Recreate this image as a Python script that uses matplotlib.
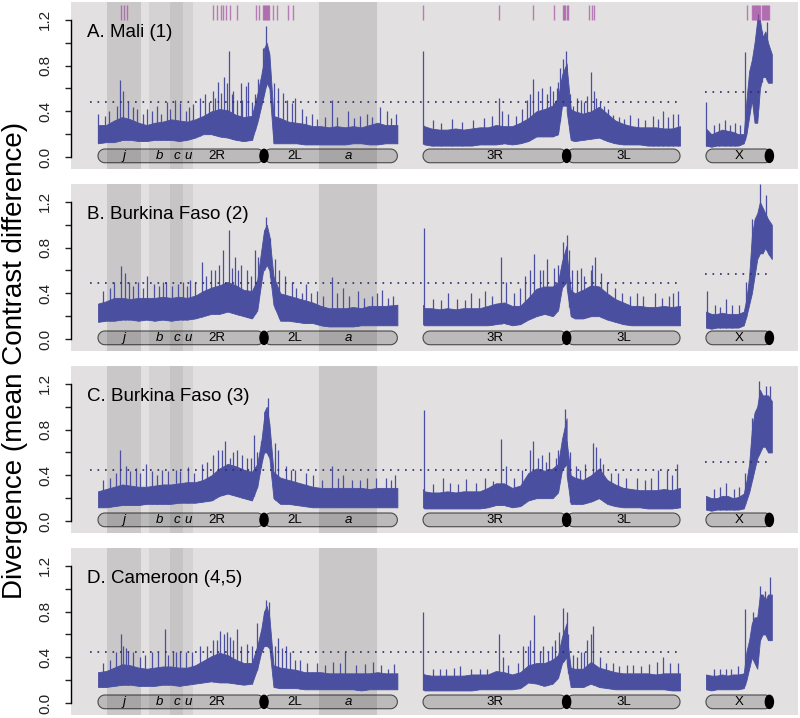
import numpy as np
import matplotlib.pyplot as plt
from matplotlib.patches import Polygon, Ellipse

plt.rcParams['font.family'] = ['Liberation Sans', 'DejaVu Sans']

# chromosome arms laid out left to right, in Mb (gaps between chromosomes)
arm_names = ['2R', '2L', '3R', '3L', 'X']
arm_start = [0.0, 61.5, 120.4, 173.6, 225.2]
arm_len = [61.5, 49.4, 53.2, 42.0, 24.4]
arm_label_x = [44.1, 73.0, 147.0, 194.6, 237.4]

# inversions (layout Mb)
inv_names = ['j', 'b', 'c', 'u', 'a']
inv_start = [3.3, 18.9, 26.7, 31.5, 81.9]
inv_end = [15.9, 26.7, 31.5, 35.2, 103.3]

# positions along each arm where the band was read (Mb from arm's left end)
grid = [
    [0, 3, 6, 9, 12, 15, 18, 21, 24, 27, 30, 33, 36, 39, 42, 45, 48, 51, 54, 57, 59, 60.5, 61.5],
    [0, 1, 2, 3.5, 6, 9, 12, 15, 18, 21, 24, 27, 30, 33, 36, 39, 42, 45, 49.4],
    [0, 0.5, 3, 6, 9, 12, 15, 18, 21, 24, 27, 30, 33, 36, 39, 42, 45, 48, 50, 51.5, 53.2],
    [0, 1.5, 3, 6, 9, 12, 15, 18, 21, 24, 27, 30, 33, 36, 39, 42],
    [0, 2, 4, 6, 8, 10, 12, 14, 15, 16, 17, 18, 19, 20, 21, 22, 23, 24.4],
]

titles = ['A. Mali (1)', 'B. Burkina Faso (2)', 'C. Burkina Faso (3)', 'D. Cameroon (4,5)']
thr_auto = [0.48, 0.49, 0.45, 0.45]
thr_x = [0.57, 0.57, 0.52, None]

# top / bottom of the dense part of the divergence trace
mali_hi = [
    [0.28, 0.28, 0.32, 0.35, 0.33, 0.30, 0.28, 0.30, 0.31, 0.33, 0.32, 0.31, 0.33, 0.36, 0.40, 0.42, 0.41, 0.37, 0.35, 0.36, 0.55, 0.72, 0.85],
    [0.95, 1.0, 0.9, 0.36, 0.34, 0.31, 0.3, 0.29, 0.27, 0.27, 0.26, 0.27, 0.26, 0.27, 0.26, 0.28, 0.3, 0.28, 0.28],
    [0.28, 0.27, 0.25, 0.24, 0.24, 0.25, 0.24, 0.25, 0.26, 0.26, 0.28, 0.27, 0.27, 0.3, 0.34, 0.40, 0.42, 0.45, 0.52, 0.72, 0.82],
    [0.8, 0.42, 0.4, 0.38, 0.40, 0.44, 0.38, 0.32, 0.29, 0.27, 0.26, 0.26, 0.26, 0.25, 0.25, 0.27],
    [0.25, 0.2, 0.22, 0.24, 0.23, 0.22, 0.2, 0.2, 0.5, 0.75, 0.85, 1.0, 1.2, 1.2, 1.05, 1.1, 1.0, 0.9],
]
mali_lo = [
    [0.12, 0.13, 0.13, 0.15, 0.15, 0.14, 0.14, 0.15, 0.15, 0.15, 0.14, 0.15, 0.17, 0.20, 0.20, 0.18, 0.17, 0.15, 0.14, 0.15, 0.30, 0.45, 0.55],
    [0.55, 0.65, 0.6, 0.12, 0.12, 0.12, 0.12, 0.11, 0.11, 0.11, 0.11, 0.11, 0.11, 0.12, 0.12, 0.11, 0.11, 0.12, 0.12],
    [0.12, 0.11, 0.10, 0.10, 0.10, 0.10, 0.10, 0.10, 0.11, 0.11, 0.11, 0.12, 0.11, 0.12, 0.14, 0.18, 0.18, 0.18, 0.2, 0.45, 0.45],
    [0.4, 0.15, 0.14, 0.15, 0.16, 0.17, 0.14, 0.12, 0.11, 0.11, 0.11, 0.10, 0.10, 0.10, 0.10, 0.10],
    [0.1, 0.09, 0.1, 0.1, 0.1, 0.1, 0.1, 0.12, 0.2, 0.35, 0.5, 0.3, 0.3, 0.6, 0.7, 0.7, 0.65, 0.65],
]
bf2_hi = [
    [0.31, 0.33, 0.36, 0.36, 0.35, 0.36, 0.36, 0.36, 0.37, 0.36, 0.37, 0.36, 0.38, 0.42, 0.45, 0.47, 0.5, 0.47, 0.43, 0.42, 0.52, 0.78, 0.95],
    [0.95, 1.0, 0.9, 0.55, 0.4, 0.38, 0.36, 0.34, 0.32, 0.29, 0.27, 0.27, 0.27, 0.28, 0.27, 0.29, 0.29, 0.29, 0.3],
    [0.3, 0.27, 0.27, 0.26, 0.27, 0.26, 0.27, 0.27, 0.27, 0.29, 0.31, 0.32, 0.29, 0.29, 0.36, 0.44, 0.46, 0.46, 0.5, 0.68, 0.82],
    [0.75, 0.43, 0.4, 0.43, 0.47, 0.46, 0.4, 0.35, 0.32, 0.29, 0.29, 0.28, 0.28, 0.29, 0.28, 0.29],
    [0.24, 0.22, 0.22, 0.23, 0.22, 0.22, 0.22, 0.24, 0.35, 0.55, 0.9, 1.05, 1.1, 1.2, 1.15, 1.1, 1.05, 1.0],
]
bf2_lo = [
    [0.15, 0.16, 0.16, 0.17, 0.17, 0.16, 0.17, 0.16, 0.17, 0.16, 0.17, 0.17, 0.18, 0.20, 0.22, 0.22, 0.24, 0.22, 0.20, 0.18, 0.25, 0.50, 0.65],
    [0.6, 0.65, 0.6, 0.3, 0.16, 0.16, 0.15, 0.14, 0.14, 0.12, 0.11, 0.11, 0.11, 0.11, 0.12, 0.12, 0.12, 0.12, 0.12],
    [0.13, 0.12, 0.12, 0.12, 0.12, 0.12, 0.12, 0.12, 0.12, 0.12, 0.13, 0.14, 0.12, 0.13, 0.17, 0.2, 0.22, 0.2, 0.25, 0.45, 0.5],
    [0.45, 0.2, 0.18, 0.18, 0.2, 0.2, 0.17, 0.15, 0.13, 0.12, 0.12, 0.12, 0.12, 0.12, 0.12, 0.12],
    [0.1, 0.09, 0.1, 0.1, 0.1, 0.1, 0.1, 0.12, 0.2, 0.3, 0.4, 0.55, 0.7, 0.75, 0.75, 0.8, 0.75, 0.7],
]
bf3_hi = [
    [0.26, 0.28, 0.30, 0.32, 0.31, 0.30, 0.30, 0.31, 0.32, 0.32, 0.33, 0.34, 0.34, 0.36, 0.40, 0.46, 0.5, 0.48, 0.45, 0.43, 0.5, 0.7, 0.9],
    [0.95, 1.0, 0.85, 0.43, 0.38, 0.36, 0.34, 0.32, 0.3, 0.29, 0.29, 0.29, 0.29, 0.29, 0.29, 0.28, 0.29, 0.29, 0.29],
    [0.28, 0.26, 0.25, 0.25, 0.26, 0.25, 0.26, 0.26, 0.26, 0.29, 0.33, 0.33, 0.29, 0.31, 0.42, 0.46, 0.44, 0.46, 0.5, 0.72, 0.9],
    [0.7, 0.4, 0.38, 0.36, 0.4, 0.46, 0.36, 0.32, 0.29, 0.28, 0.27, 0.27, 0.27, 0.28, 0.27, 0.29],
    [0.22, 0.2, 0.2, 0.22, 0.22, 0.2, 0.21, 0.24, 0.35, 0.5, 0.8, 0.95, 1.0, 1.15, 1.1, 1.1, 1.1, 1.05],
]
bf3_lo = [
    [0.12, 0.12, 0.13, 0.14, 0.14, 0.14, 0.15, 0.15, 0.15, 0.15, 0.16, 0.16, 0.16, 0.17, 0.18, 0.22, 0.24, 0.22, 0.2, 0.18, 0.3, 0.5, 0.6],
    [0.6, 0.6, 0.55, 0.2, 0.15, 0.15, 0.14, 0.13, 0.12, 0.12, 0.12, 0.12, 0.12, 0.12, 0.12, 0.12, 0.12, 0.12, 0.12],
    [0.12, 0.11, 0.11, 0.11, 0.11, 0.11, 0.11, 0.11, 0.11, 0.12, 0.14, 0.14, 0.12, 0.13, 0.18, 0.2, 0.2, 0.2, 0.25, 0.45, 0.5],
    [0.4, 0.15, 0.15, 0.15, 0.17, 0.2, 0.15, 0.13, 0.12, 0.12, 0.12, 0.11, 0.11, 0.11, 0.11, 0.12],
    [0.1, 0.09, 0.1, 0.1, 0.1, 0.1, 0.1, 0.11, 0.18, 0.25, 0.35, 0.45, 0.55, 0.6, 0.65, 0.65, 0.6, 0.6],
]
cam_hi = [
    [0.27, 0.28, 0.31, 0.34, 0.33, 0.31, 0.3, 0.31, 0.32, 0.32, 0.31, 0.31, 0.33, 0.37, 0.41, 0.44, 0.42, 0.38, 0.35, 0.35, 0.5, 0.65, 0.8],
    [0.8, 0.85, 0.75, 0.33, 0.31, 0.3, 0.29, 0.27, 0.27, 0.27, 0.26, 0.26, 0.26, 0.26, 0.26, 0.26, 0.27, 0.26, 0.26],
    [0.26, 0.25, 0.24, 0.24, 0.24, 0.24, 0.24, 0.25, 0.25, 0.25, 0.28, 0.27, 0.25, 0.27, 0.33, 0.35, 0.35, 0.38, 0.42, 0.58, 0.7],
    [0.6, 0.31, 0.3, 0.3, 0.36, 0.31, 0.29, 0.27, 0.26, 0.26, 0.26, 0.26, 0.25, 0.26, 0.26, 0.26],
    [0.25, 0.24, 0.24, 0.25, 0.24, 0.25, 0.25, 0.26, 0.45, 0.55, 0.7, 0.75, 0.75, 0.95, 0.95, 0.9, 0.95, 0.95],
]
cam_lo = [
    [0.14, 0.14, 0.15, 0.16, 0.16, 0.15, 0.15, 0.15, 0.16, 0.16, 0.15, 0.16, 0.17, 0.18, 0.19, 0.18, 0.18, 0.17, 0.16, 0.17, 0.3, 0.45, 0.5],
    [0.5, 0.5, 0.48, 0.14, 0.13, 0.13, 0.13, 0.12, 0.12, 0.12, 0.12, 0.12, 0.12, 0.12, 0.11, 0.12, 0.12, 0.12, 0.12],
    [0.12, 0.11, 0.11, 0.11, 0.11, 0.11, 0.11, 0.11, 0.12, 0.12, 0.12, 0.12, 0.12, 0.13, 0.18, 0.17, 0.15, 0.17, 0.22, 0.35, 0.4],
    [0.35, 0.14, 0.14, 0.14, 0.17, 0.14, 0.13, 0.12, 0.12, 0.12, 0.12, 0.12, 0.12, 0.12, 0.11, 0.11],
    [0.12, 0.11, 0.12, 0.12, 0.12, 0.12, 0.12, 0.13, 0.2, 0.3, 0.4, 0.35, 0.3, 0.55, 0.6, 0.6, 0.55, 0.55],
]

# isolated peaks above the dense band (layout Mb, value)
mali_spikes = [
    (0.1, 0.38), (2.5, 0.36), (4.0, 0.40), (6.9, 0.45), (8.1, 0.67), (9.1, 0.58), (11.2, 0.48),
    (13.1, 0.44), (14.6, 0.42), (16.5, 0.38), (18.0, 0.42), (20.0, 0.40), (21.7, 0.45), (23.5, 0.38),
    (25.4, 0.48), (26.5, 0.42), (28.5, 0.50), (30.4, 0.47), (32.5, 0.40), (33.8, 0.44), (35.3, 0.46),
    (37.8, 0.52), (39.6, 0.55), (41.0, 0.48), (42.7, 0.58), (43.5, 0.52), (44.6, 0.66), (45.5, 0.56),
    (46.7, 0.70), (47.7, 0.65), (48.6, 0.93), (49.5, 0.55), (50.1, 0.58), (51.5, 0.5), (52.8, 0.65),
    (53.5, 0.5), (54.8, 0.62), (55.7, 0.66), (57.0, 0.48), (58.2, 0.55), (59.4, 0.68), (61.2, 0.95),
    (62.2, 1.15),
    (65.2, 0.65), (66.8, 0.6), (68.4, 0.56), (69.9, 0.5), (71.7, 0.47), (73.0, 0.52), (75.4, 0.42),
    (77.0, 0.36), (79.1, 0.38), (81.0, 0.33), (84.0, 0.35), (86.5, 0.50), (88.5, 0.35), (92.7, 0.40),
    (95.0, 0.34), (97.0, 0.36), (99.5, 0.38), (101.5, 0.35), (104.4, 0.44), (106.9, 0.40), (108.5, 0.34),
    (110.4, 0.38),
    (120.5, 0.93), (124.0, 0.32), (127.0, 0.3), (131.0, 0.33), (135.0, 0.31), (139.0, 0.32),
    (143.0, 0.34), (146.0, 0.36), (148.6, 0.52), (149.5, 0.40), (152.0, 0.38), (155.0, 0.36),
    (157.0, 0.42), (158.8, 0.50), (160.0, 0.55), (161.2, 0.68), (163.0, 0.58), (164.5, 0.6),
    (166.2, 0.55), (167.5, 0.62), (168.6, 0.58), (169.9, 0.60), (170.5, 0.66), (171.1, 0.78),
    (172.3, 0.86), (173.3, 0.93),
    (174.8, 0.55), (176.0, 0.45), (177.3, 0.52), (179.1, 0.50), (180.0, 0.48), (181.0, 0.53),
    (182.8, 0.74), (183.7, 0.58), (184.5, 0.52), (185.9, 0.48), (187.5, 0.45), (189.0, 0.42),
    (190.9, 0.37), (193.0, 0.35), (195.0, 0.33), (197.0, 0.37), (200.0, 0.34), (202.5, 0.32),
    (205.7, 0.36), (207.5, 0.33), (209.4, 0.40), (211.0, 0.35), (213.0, 0.38), (214.9, 0.38),
    (225.2, 0.48), (228.0, 0.28), (230.0, 0.3), (232.1, 0.32), (234.0, 0.28), (236.0, 0.3),
    (238.0, 0.28), (239.6, 0.92), (244.6, 1.25), (245.8, 1.1), (247.7, 1.18),
]
bf2_spikes = [
    (2.0, 0.42), (4.5, 0.45), (6.0, 0.5), (8.7, 0.64), (10.1, 0.58), (11.3, 0.5), (13.0, 0.46),
    (15.0, 0.5), (16.5, 0.45), (18.3, 0.55), (20.9, 0.48), (22.5, 0.46), (24.0, 0.5), (25.3, 0.5),
    (27.5, 0.46), (29.7, 0.48), (31.5, 0.5), (33.0, 0.46), (34.1, 0.52), (36.0, 0.5), (38.4, 0.67),
    (40.0, 0.55), (41.9, 0.6), (43.5, 0.6), (45.0, 0.65), (46.3, 0.78), (48.6, 0.95), (49.5, 0.62),
    (50.7, 0.72), (52.0, 0.6), (53.0, 0.65), (55.1, 0.6), (56.5, 0.55), (58.0, 0.78), (59.4, 0.72),
    (62.4, 1.07),
    (63.8, 0.88), (65.6, 0.7), (67.0, 0.6), (69.1, 0.55), (71.7, 0.5), (73.5, 0.45), (75.5, 0.4),
    (77.0, 0.48), (79.0, 0.4), (81.3, 0.42), (83.5, 0.38), (86.6, 0.54), (88.5, 0.4), (90.9, 0.45),
    (93.0, 0.38), (96.2, 0.42), (98.5, 0.36), (101.5, 0.38), (103.5, 0.4), (105.3, 0.43),
    (107.5, 0.36), (109.3, 0.38),
    (120.7, 0.97), (124.0, 0.35), (127.0, 0.34), (129.8, 0.4), (133.0, 0.35), (136.0, 0.34),
    (138.2, 0.4), (141.0, 0.36), (143.5, 0.42), (146.0, 0.38), (149.1, 0.72), (151.3, 0.5),
    (154.0, 0.4), (156.5, 0.45), (158.3, 0.55), (160.0, 0.6), (161.5, 0.74), (163.6, 0.6),
    (165.0, 0.6), (166.2, 0.7), (168.9, 0.62), (170.5, 0.65), (172.3, 0.85), (173.6, 0.91),
    (174.6, 0.78), (175.5, 0.6), (177.6, 0.6), (179.0, 0.62), (180.2, 0.55), (182.5, 0.6),
    (183.0, 0.65), (184.1, 0.72), (186.3, 0.58), (188.5, 0.5), (191.6, 0.45), (194.0, 0.4),
    (197.0, 0.38), (199.5, 0.4), (202.0, 0.38), (206.5, 0.4), (209.0, 0.36), (211.7, 0.38),
    (213.0, 0.4), (214.9, 0.42),
    (225.7, 0.42), (228.5, 0.3), (230.5, 0.28), (232.7, 0.35), (235.0, 0.3), (237.5, 0.3),
    (240.1, 0.5), (242.4, 1.05), (245.3, 1.36), (247.6, 1.26), (248.5, 1.0),
]
bf3_spikes = [
    (2.0, 0.36), (4.5, 0.38), (6.5, 0.42), (8.3, 0.62), (10.4, 0.48), (12.0, 0.44), (13.9, 0.46),
    (15.5, 0.42), (17.9, 0.5), (20.0, 0.44), (22.0, 0.4), (23.6, 0.45), (26.0, 0.44), (28.8, 0.45),
    (30.5, 0.44), (33.2, 0.47), (35.5, 0.42), (38.4, 0.5), (40.5, 0.52), (42.5, 0.58), (44.6, 0.62),
    (46.0, 0.62), (47.2, 0.7), (48.9, 0.55), (50.0, 0.6), (51.6, 0.62), (53.5, 0.58), (55.1, 0.55),
    (56.5, 0.55), (57.7, 0.75), (59.0, 0.6), (60.3, 0.7), (62.9, 1.08),
    (65.6, 0.68), (66.8, 0.62), (69.6, 0.48), (71.5, 0.45), (73.0, 0.45), (76.9, 0.42), (79.5, 0.4),
    (83.0, 0.36), (86.6, 0.48), (89.0, 0.38), (90.9, 0.4), (94.0, 0.36), (97.0, 0.36), (99.7, 0.38),
    (103.0, 0.38), (106.7, 0.38), (108.5, 0.36), (110.2, 0.4),
    (120.7, 0.97), (124.0, 0.32), (127.7, 0.38), (130.5, 0.33), (133.5, 0.32), (136.5, 0.37),
    (140.0, 0.33), (143.5, 0.38), (146.5, 0.35), (149.1, 0.72), (151.3, 0.48), (154.0, 0.38),
    (157.0, 0.45), (160.1, 0.62), (161.3, 0.7), (163.0, 0.55), (164.5, 0.58), (166.0, 0.52),
    (167.1, 0.6), (169.7, 0.55), (170.5, 0.62), (172.9, 0.98),
    (175.0, 0.6), (177.0, 0.48), (178.5, 0.45), (180.5, 0.5), (183.2, 0.68), (184.6, 0.65),
    (186.0, 0.55), (187.2, 0.5), (190.0, 0.42), (192.5, 0.42), (195.5, 0.38), (199.5, 0.38),
    (202.5, 0.36), (205.0, 0.38), (207.4, 0.45), (210.9, 0.45), (212.5, 0.4), (214.4, 0.5),
    (228.0, 0.28), (230.5, 0.3), (232.7, 0.33), (235.5, 0.28), (237.5, 0.3), (239.7, 0.42),
    (242.4, 0.9), (245.0, 1.23), (247.6, 1.18), (249.0, 1.18),
]
cam_spikes = [
    (2.0, 0.35), (4.5, 0.38), (6.5, 0.45), (8.4, 0.6), (9.4, 0.5), (10.5, 0.48), (11.2, 0.45),
    (13.1, 0.45), (15.5, 0.4), (17.5, 0.42), (20.0, 0.45), (22.3, 0.45), (24.8, 0.65), (26.0, 0.42),
    (27.9, 0.45), (29.0, 0.45), (30.4, 0.45), (32.5, 0.45), (35.0, 0.45), (37.8, 0.5), (40.5, 0.5),
    (42.7, 0.55), (44.0, 0.55), (45.2, 0.63), (46.5, 0.6), (47.7, 0.62), (48.9, 0.58), (50.0, 0.55),
    (51.6, 0.65), (53.0, 0.5), (55.1, 0.52), (57.0, 0.5), (58.8, 0.7), (60.6, 0.65), (62.1, 0.9),
    (63.3, 0.88),
    (65.6, 0.5), (66.8, 0.57), (68.0, 0.48), (69.5, 0.5), (71.1, 0.45), (73.0, 0.38), (74.8, 0.38),
    (77.5, 0.35), (81.0, 0.35), (84.0, 0.33), (87.2, 0.36), (89.5, 0.35), (91.5, 0.45), (95.5, 0.33),
    (99.0, 0.34), (102.0, 0.36), (105.0, 0.33), (107.5, 0.3), (109.5, 0.34),
    (120.5, 0.8), (124.0, 0.3), (126.7, 0.3), (129.0, 0.3), (132.0, 0.31), (134.1, 0.32),
    (138.0, 0.3), (141.5, 0.3), (144.0, 0.3), (148.6, 0.6), (150.1, 0.4), (152.0, 0.33),
    (155.5, 0.35), (157.5, 0.5), (159.4, 0.5), (160.0, 0.55), (161.5, 0.77), (163.7, 0.45),
    (165.0, 0.5), (166.8, 0.45), (168.0, 0.5), (169.3, 0.55), (170.9, 0.62), (172.3, 0.83),
    (173.6, 0.8),
    (174.2, 0.6), (176.0, 0.42), (177.5, 0.4), (179.1, 0.45), (180.0, 0.45), (181.2, 0.55),
    (182.6, 0.6), (183.5, 0.67), (185.9, 0.4), (188.0, 0.35), (190.9, 0.35), (193.0, 0.32),
    (196.0, 0.33), (198.3, 0.33), (201.0, 0.32), (204.0, 0.34), (207.0, 0.36), (209.4, 0.4),
    (212.0, 0.35), (214.9, 0.35),
    (228.0, 0.3), (230.5, 0.3), (232.6, 0.3), (234.5, 0.3), (237.0, 0.32), (239.6, 0.82),
    (242.7, 0.8), (245.2, 1.02), (247.0, 0.98), (248.9, 1.1),
]

# significant windows for Mali (purple ticks on top)
mali_sig = [8.5, 9.6, 10.7, 42.6, 44.1, 45.6, 46.3, 47.4, 48.9, 51.5, 58.5, 59.6,
            61.1, 61.5, 61.9, 62.3, 62.7, 63.1, 63.5, 64.8, 66.3, 70.4, 72.2,
            120.4, 148.5, 161.1, 168.9, 172.2, 172.6, 173.0, 173.7, 174.1, 181.9, 183.0, 183.7,
            240.4, 242.2, 242.6, 243.0, 243.4, 243.8, 244.2, 244.6, 245.0, 245.4, 245.8,
            246.2, 246.6, 247.0, 247.4, 247.8, 248.2, 248.5]

all_hi = [mali_hi, bf2_hi, bf3_hi, cam_hi]
all_lo = [mali_lo, bf2_lo, bf3_lo, cam_lo]
all_spikes = [mali_spikes, bf2_spikes, bf3_spikes, cam_spikes]

blue = '#4a4f9f'
bg = '#e2e0e0'
inv_alpha = [0.11, 0.06, 0.12, 0.06, 0.11]

fig = plt.figure(figsize=(8, 7.18), dpi=100)

px_per_mb = 2.7
px_per_unit = 114.2


def capsule(ax, x0, x1, yc, hy):
    rx = hy * px_per_unit / px_per_mb
    t = np.linspace(-np.pi / 2, np.pi / 2, 30)
    xr = x1 - rx + rx * np.cos(t)
    yr = yc + hy * np.sin(t)
    t2 = np.linspace(np.pi / 2, 3 * np.pi / 2, 30)
    xl = x0 + rx + rx * np.cos(t2)
    yl = yc + hy * np.sin(t2)
    pts = np.column_stack([np.r_[xr, xl], np.r_[yr, yl]])
    ax.add_patch(Polygon(pts, closed=True, fc='#bcbaba', ec='#4a4a4a', lw=0.8, zorder=2))


bottoms = [1 - 169 / 718, 1 - 351 / 718, 1 - 533 / 718, 1 - 715 / 718]
for p in range(4):
    ax = fig.add_axes([71 / 800, bottoms[p], 727 / 800, 167 / 718])
    ax.set_facecolor(bg)
    ax.set_xlim(-10, 259.3)
    ax.set_ylim(-0.105, 1.357)

    # chromosome bars
    for i in range(5):
        capsule(ax, arm_start[i], arm_start[i] + arm_len[i], 0.01, 0.06)
        ax.text(arm_label_x[i], 0.005, arm_names[i], ha='center', va='center',
                fontsize=9.5, zorder=6)
    for k in range(5):
        ax.axvspan(inv_start[k], inv_end[k], color='black', alpha=inv_alpha[k], lw=0, zorder=3)
        ax.text((inv_start[k] + inv_end[k]) / 2, 0.005, inv_names[k], ha='center', va='center',
                fontsize=9.5, style='italic', zorder=6)
    cen_x = [arm_start[1], arm_start[3], arm_start[4] + arm_len[4] - 0.9]
    for cx in cen_x:
        ax.add_patch(Ellipse((cx, 0.01), 3.0, 0.115, fc='black', ec='black', zorder=5))

    # divergence trace
    hi = all_hi[p]
    lo = all_lo[p]
    xs_all = []
    lo_all = []
    for i in range(5):
        xs = arm_start[i] + np.array(grid[i])
        ax.fill_between(xs, lo[i], hi[i], color=blue, lw=0.6, zorder=4)
        xs_all.extend(xs)
        lo_all.extend(lo[i])
    sx = np.array([s[0] for s in all_spikes[p]])
    sy = np.array([s[1] for s in all_spikes[p]])
    base = np.interp(sx, xs_all, lo_all)
    ax.vlines(sx, base, sy, color=blue, lw=0.9, zorder=4)

    # thresholds
    ax.plot([-3, 215.6], [thr_auto[p]] * 2, ls=(0, (1, 3.5)), lw=1.2, color='#2b2b66', zorder=5)
    if thr_x[p] is not None:
        ax.plot([224.8, 249.6], [thr_x[p]] * 2, ls=(0, (1, 3.5)), lw=1.2, color='#2b2b66', zorder=5)

    if p == 0:
        ax.vlines(mali_sig, 1.2, 1.33, color='#9a3a9a', alpha=0.6, lw=1.0, zorder=5)

    ax.text(-4.1, 1.09, titles[p], ha='left', va='center', fontsize=13.5, zorder=6)

    for s in ['top', 'right', 'bottom']:
        ax.spines[s].set_visible(False)
    ax.spines['left'].set_bounds(0, 1.2)
    ax.spines['left'].set_linewidth(1.0)
    ax.set_xticks([])
    ax.set_yticks(np.arange(0, 1.21, 0.2))
    ax.set_yticklabels(['0.0', '', '0.4', '', '0.8', '', '1.2'])
    ax.tick_params(axis='y', direction='out', length=4.5, width=1.0, pad=9,
                   labelsize=11, labelrotation=90, colors='#222222')
    for lab in ax.get_yticklabels():
        lab.set_va('center')

fig.text(15 / 800, 1 - 360 / 718, 'Divergence (mean Contrast difference)', rotation=90,
         ha='center', va='center', fontsize=20)

fig.savefig('out.png', dpi=100, facecolor='white')
